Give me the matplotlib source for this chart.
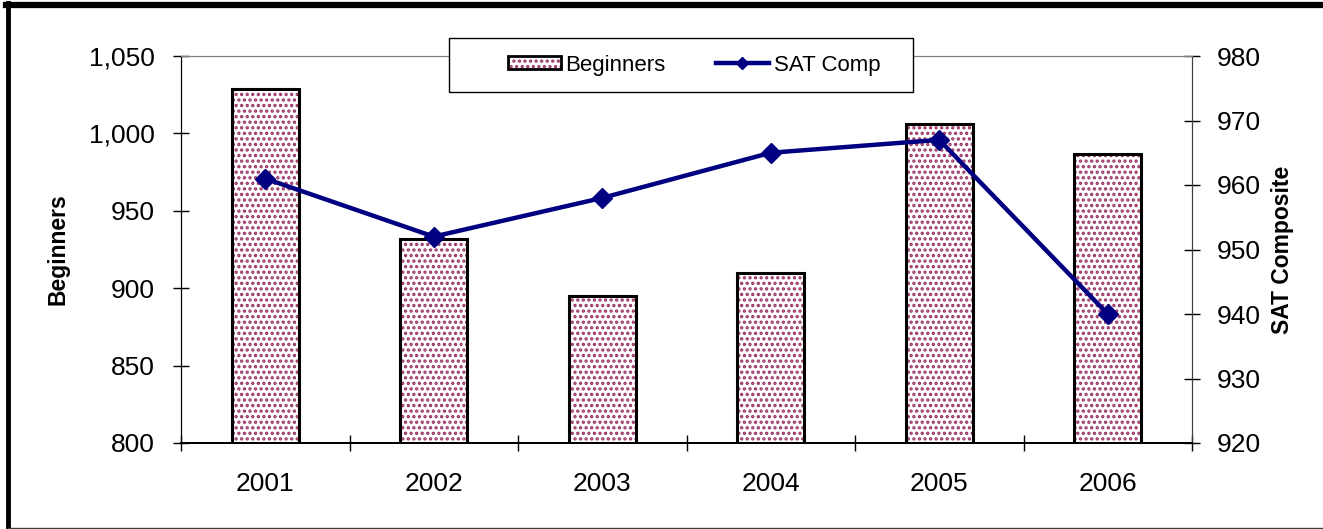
import matplotlib
matplotlib.use('Agg')
from matplotlib import pyplot as plt
from matplotlib.patches import Patch, Rectangle
from matplotlib.lines import Line2D
from matplotlib.legend_handler import HandlerTuple
import numpy as np

years = ['2001', '2002', '2003', '2004', '2005', '2006']
beginners = [1029, 932, 895, 910, 1006, 987]
sat_comp = [961, 952, 958, 965, 967, 940]
left_ticks = [800, 850, 900, 950, 1000, 1050]
right_ticks = [920, 930, 940, 950, 960, 970, 980]

plt.rcParams['font.family'] = ['Liberation Sans', 'DejaVu Sans']
plt.rcParams['hatch.linewidth'] = 1.6

W, H = 1323, 529
fig = plt.figure(figsize=(W / 100, H / 100), dpi=100)
ax = fig.add_axes([181 / W, 1 - 443 / H, 1011 / W, 387 / H])
ax2 = ax.twinx()

x = np.arange(len(years))
bar_col = '#993366'
navy = '#000080'
fs = 19

# hatch layer then outline layer (hatch colour follows edgecolor)
ax.bar(x, beginners, width=0.4, color='white', edgecolor=bar_col, hatch='...', linewidth=0, zorder=2)
ax.bar(x, beginners, width=0.4, fill=False, edgecolor='black', linewidth=2.2, zorder=3)

ax2.plot(x, sat_comp, color=navy, linewidth=3.2, marker='D', markersize=10, zorder=4)

ax.set_xlim(-0.5, len(years) - 0.5)
ax.set_ylim(800, 1050)
ax2.set_ylim(920, 980)
ax.set_yticks(left_ticks)
ax.set_yticklabels(['{:,}'.format(v) for v in left_ticks])
ax2.set_yticks(right_ticks)

ax.set_xticks(np.arange(-0.5, len(years), 1))
ax.set_xticklabels([])
ax.set_xticks(x, minor=True)
ax.set_xticklabels(years, minor=True)
ax.tick_params(axis='x', which='minor', length=0, pad=21, labelsize=fs)
ax.tick_params(axis='x', which='major', direction='inout', length=12, width=1)
ax.tick_params(axis='y', direction='inout', length=11.5, width=1, labelsize=fs, pad=13)
ax2.tick_params(axis='y', direction='inout', length=11.5, width=1, labelsize=fs, pad=12, colors='black')

ax.set_ylabel('Beginners', fontsize=16.5, fontweight='bold', labelpad=14)
ax2.set_ylabel('SAT Composite', fontsize=16.5, fontweight='bold', labelpad=7)

for a in (ax, ax2):
    a.spines['top'].set_color('#808080')
    a.spines['right'].set_color('#404040')
    a.spines['left'].set_color('black')
    a.spines['bottom'].set_color('black')
    a.spines['bottom'].set_linewidth(1.4)

# legend box
box = Rectangle(((449 - 181) / 1011, (443 - 92) / 387), 464 / 1011, 54 / 387,
                transform=ax2.transAxes, facecolor='white', edgecolor='black',
                linewidth=1, clip_on=False, zorder=9)
ax2.add_patch(box)

h_bar = (Patch(facecolor='white', edgecolor=bar_col, hatch='...', linewidth=0),
         Patch(fill=False, edgecolor='black', linewidth=2))
h_line = Line2D([], [], color=navy, linewidth=3.2, marker='D', markersize=6)
leg = ax2.legend([h_bar, h_line], ['Beginners', 'SAT Comp'], ncol=2,
                 loc='center', bbox_to_anchor=((694 - 181) / 1011, (443 - 65) / 387),
                 fontsize=16, frameon=False,
                 handlelength=2.4, handleheight=0.55, handletextpad=0.2, columnspacing=2.25,
                 borderpad=0, borderaxespad=0,
                 handler_map={tuple: HandlerTuple(ndivide=1)})
leg.set_zorder(10)

# outer chart border (thick top/left, thin bottom)
fig.add_artist(Line2D([6 / W, 1], [1 - 5 / H, 1 - 5 / H], color='black', linewidth=4.5, transform=fig.transFigure))
fig.add_artist(Line2D([8 / W, 8 / W], [1 - 3 / H, 1 / H], color='black', linewidth=3.5, transform=fig.transFigure))
fig.add_artist(Line2D([8 / W, 1], [1.5 / H, 1.5 / H], color='#404040', linewidth=1, transform=fig.transFigure))

fig.savefig('out.png', dpi=100)
